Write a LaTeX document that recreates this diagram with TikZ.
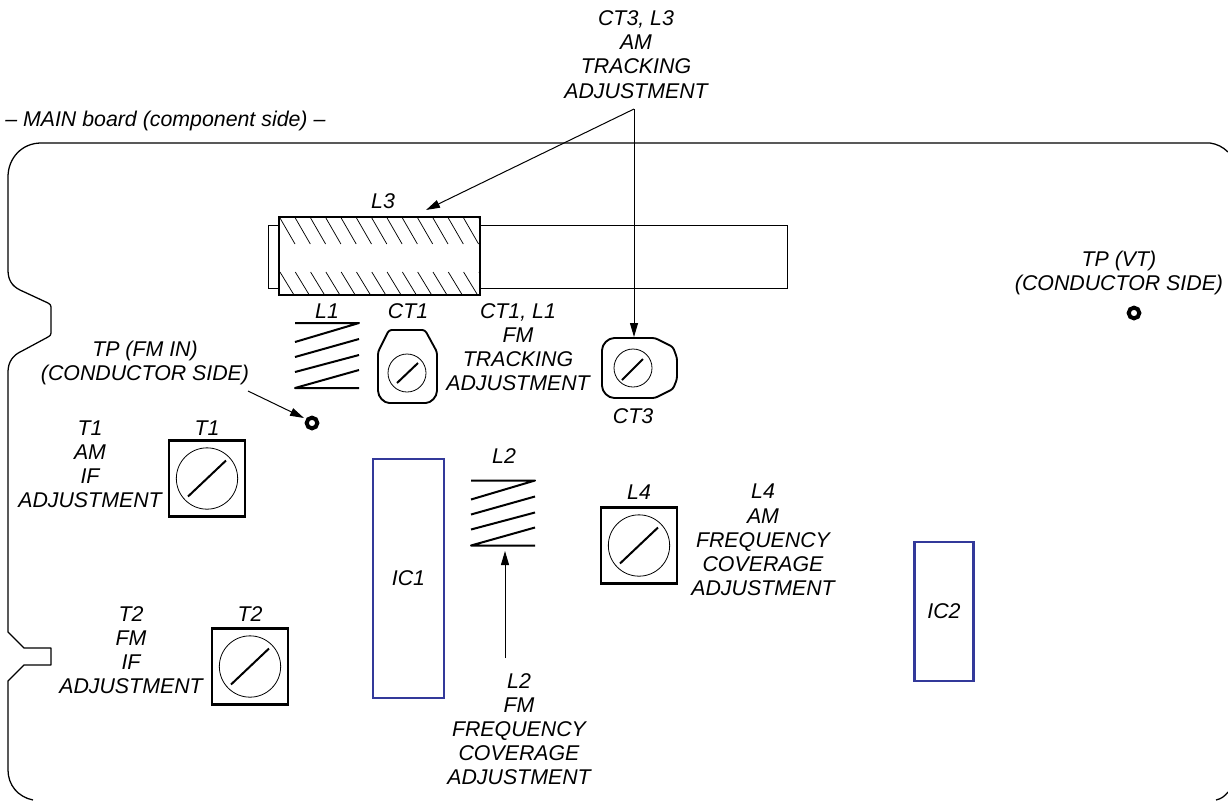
\documentclass[tikz,border=0pt]{standalone}
\usepackage{fontspec}
\setmainfont{Liberation Sans}
\usetikzlibrary{arrows.meta}
\definecolor{icblue}{HTML}{33399A}
\tikzset{
  x=0.75pt,y=-0.75pt,
  lab/.style={font=\fontsize{16}{18.1}\selectfont\itshape,align=center,inner sep=0pt,text=black},
  board/.style={line width=0.95pt,line join=round},
  thickbox/.style={draw,line width=1.6pt,fill=white},
  thin line/.style={draw,line width=0.6pt},
  hatchline/.style={line width=0.55pt},
  coilline/.style={line width=1.5pt,line join=round},
  ic/.style={draw=icblue,line width=1.8pt},
  lead/.style={line width=0.75pt,-{Triangle[length=10.5pt,width=6pt]}},
  slash/.style={line width=1.5pt},
  dial/.style={draw,line width=0.6pt,circle,inner sep=0pt},
  tp/.style={draw,line width=3pt,circle,inner sep=0pt,outer sep=0pt,minimum size=8pt}
}
\begin{document}
\begin{tikzpicture}
\useasboundingbox (0,0) rectangle (1228,801);
% board outline
\draw[board] (1228,152) .. controls (1223,147) and (1217,144) .. (1210,143) -- (41,143)
  .. controls (22,143) and (8,158) .. (8,177) -- (8,270)
  .. controls (8,280) and (12,286) .. (20,290) -- (48,303)
  .. controls (50,304) and (51,305) .. (51,307) -- (51,333)
  .. controls (51,335) and (50,336) .. (48,337) -- (22,351)
  .. controls (13,355) and (8,362) .. (8,372) -- (8,632) -- (24,648) -- (51,648) -- (51,665) -- (24,665) -- (8,681) -- (8,770)
  .. controls (8,785) and (18,797) .. (33,800);
\draw[board] (1216,800) .. controls (1221,799) and (1225,796) .. (1228,792);
% ferrite rod and L3
\draw[thin line] (268,225) rectangle (787,288);
\node[thickbox,minimum width=150.75pt,minimum height=58.5pt,inner sep=0pt] (l3body) at (379.5,256) {};
\begin{scope}
\clip (279,217) rectangle (480,295);
\foreach \i in {0,...,13} {
  \draw[hatchline] (280+15.3*\i,218) -- ++(15,26);
  \draw[hatchline] (280+15.3*\i,272) -- ++(14,23);
}
\end{scope}
\draw[line width=1.6pt] (279,217) rectangle (480,295);
% coils
\foreach \n/\dx/\dy in {a/0/0,b/176/157.5} {
\begin{scope}[shift={(\dx,\dy)}]
\draw[coilline] (295,323) -- (359,323) -- (295,342);
\draw[coilline] (359,339) -- (295,357);
\draw[coilline] (359,355) -- (295,372);
\draw[coilline] (359,370) -- (295,388) -- (359,388);
\end{scope}
}
% CT1
\draw[line width=1.4pt,line join=round,rounded corners=2pt] (407,330) -- (425,330) -- (437,352) -- (437,388)
  .. controls (437,397) and (431,403) .. (423,403) -- (392,403)
  .. controls (384,403) and (378,397) .. (378,388) -- (378,352) -- (389,330) -- cycle;
\node[dial,minimum size=28.5pt] (ct1d) at (407,373) {};
\draw[slash] (397,383) -- (418,363);
% CT3
\draw[line width=1.4pt,line join=round,rounded corners=2pt] (635,338) -- (655,338) -- (673,347) -- (677,358) -- (677,379) -- (673,389) -- (655,398) -- (617,398)
  .. controls (608,398) and (602,392) .. (602,383) -- (602,353)
  .. controls (602,344) and (608,338) .. (617,338) -- cycle;
\node[dial,minimum size=28.5pt] (ct3d) at (633,368) {};
\draw[slash] (622,380) -- (643,359);
% trimmers
\foreach \n/\cx/\cy in {t1/207/478.5,t2/250/666.5,l4/639/545.5} {
  \node[thickbox,minimum size=57pt,inner sep=0pt] (box\n) at (\cx,\cy) {};
  \node[dial,minimum size=46pt] (dial\n) at (\cx,\cy) {};
  \draw[slash] (\cx-19,\cy+18) -- (\cx+19,\cy-18);
}
% ICs
\node[ic,minimum width=53pt,minimum height=179pt,inner sep=0pt] (ic1) at (408.5,578.5) {};
\node[lab] at (ic1) {IC1};
\node[ic,minimum width=44.5pt,minimum height=104pt,inner sep=0pt] (ic2) at (944,611.5) {};
\node[lab] at (ic2) {IC2};
% test points
\node[tp] (tpfm) at (312,423) {};
\node[tp] (tpvt) at (1134,313) {};
% labels
\node[lab] (top) at (636,54.5) {CT3, L3\\AM\\TRACKING\\ADJUSTMENT};
\node[lab,anchor=west] (main) at (5,121) {– MAIN board (component side) –};
\node[lab] (ll3) at (383,201) {L3};
\node[lab] (ll1) at (327,311) {L1};
\node[lab] (lct1) at (408,311) {CT1};
\node[lab] (ct1txt) at (518,347) {CT1, L1\\FM\\TRACKING\\ADJUSTMENT};
\node[lab] (lct3) at (633,416) {CT3};
\node[lab] (fmtxt) at (145,363) {TP (FM IN)\\(CONDUCTOR SIDE)};
\node[lab] (vttxt) at (1119,273) {TP (VT)\\(CONDUCTOR SIDE)};
\node[lab] (lt1) at (207,428) {T1};
\node[lab] (t1txt) at (90,464) {T1\\AM\\IF\\ADJUSTMENT};
\node[lab] (lt2) at (250,614) {T2};
\node[lab] (t2txt) at (131,650) {T2\\FM\\IF\\ADJUSTMENT};
\node[lab] (ll2) at (504,456) {L2};
\node[lab] (ll4) at (639,492) {L4};
\node[lab] (l4txt) at (763,540) {L4\\AM\\FREQUENCY\\COVERAGE\\ADJUSTMENT};
\node[lab] (l2txt) at (519,729) {L2\\FM\\FREQUENCY\\COVERAGE\\ADJUSTMENT};
% arrows
\coordinate (apex) at (634,109);
\coordinate (l3tip) at (426,210);
\coordinate (ct3tip) at (634,337);
\coordinate (fmstart) at (248,391);
\coordinate (fmtip) at (304,418);
\coordinate (l2start) at (505,658);
\coordinate (l2tip) at (505,551);
\draw[lead] (apex) -- (l3tip);
\draw[lead] (apex) -- (ct3tip);
\draw[lead] (fmstart) -- (fmtip);
\draw[lead] (l2start) -- (l2tip);
\end{tikzpicture}
\end{document}
